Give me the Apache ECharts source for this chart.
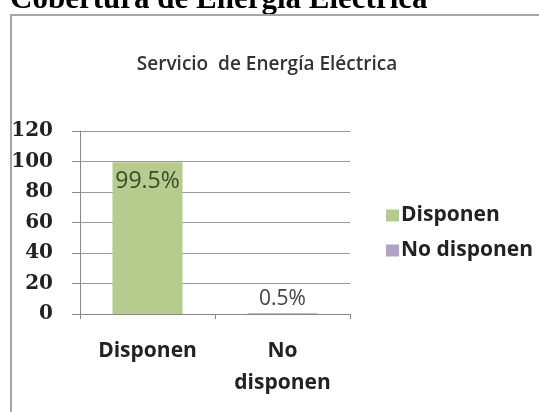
<!DOCTYPE html>
<html>
<head>
<meta charset="utf-8">
<script src="https://cdn.jsdelivr.net/npm/echarts@6/dist/echarts.min.js"></script>
<style>
  html, body { margin: 0; padding: 0; background: #fff; }
  #chart { width: 539px; height: 412px; }
</style>
</head>
<body>
<div id="chart"></div>
<script>
  // datos del gráfico
  var categorias = ['Disponen', 'No disponen'];
  var disponen = [99.5, '-'];
  var noDisponen = ['-', 0.5];
  var ticksY = [0, 20, 40, 60, 80, 100, 120];

  var chart = echarts.init(document.getElementById('chart'));
  chart.setOption({
    animation: false,
    graphic: [
      {
        type: 'text',
        left: 10,
        top: -16,
        style: {
          text: 'Cobertura de Energía Eléctrica',
          font: 'bold 31px "Liberation Serif", serif',
          fill: '#000'
        }
      },
      {
        type: 'rect',
        shape: { x: 11, y: 15, width: 560, height: 420 },
        style: { fill: 'none', stroke: '#a6a6a6', lineWidth: 2 }
      }
    ],
    title: {
      text: 'Servicio  de Energía Eléctrica',
      left: 262,
      top: 50,
      textAlign: 'center',
      textStyle: {
        fontFamily: 'Open Sans',
        fontSize: 19,
        fontWeight: 600,
        color: '#333'
      }
    },
    legend: {
      orient: 'vertical',
      left: 381,
      top: 200,
      itemWidth: 13,
      itemHeight: 12,
      itemGap: 14,
      icon: 'rect',
      textStyle: {
        fontFamily: 'Open Sans',
        fontWeight: 'bold',
        fontSize: 21,
        color: '#222',
        padding: [0, 0, 0, -3]
      },
      data: ['Disponen', 'No disponen']
    },
    grid: {
      left: 80,
      right: 189,
      top: 131,
      bottom: 98,
      containLabel: false
    },
    xAxis: {
      type: 'category',
      data: categorias,
      axisLine: { lineStyle: { color: '#888', width: 1 } },
      axisTick: { show: true, length: 5, lineStyle: { color: '#888' } },
      axisLabel: {
        margin: 21,
        fontFamily: 'Open Sans',
        fontWeight: 'bold',
        fontSize: 21,
        lineHeight: 32,
        color: '#222',
        formatter: function (v) { return v.replace(' ', '\n'); }
      }
    },
    yAxis: {
      type: 'value',
      min: 0,
      max: 120,
      interval: 20,
      axisLine: { show: true, lineStyle: { color: '#888' } },
      axisTick: { show: true, length: 8, lineStyle: { color: '#888' } },
      splitLine: { lineStyle: { color: '#999', width: 1 } },
      axisLabel: {
        margin: 27,
        fontFamily: 'DejaVu Serif',
        fontWeight: 'bold',
        fontSize: 20,
        color: '#222',
        formatter: function (v) { return ticksY.indexOf(v) >= 0 ? v : ''; }
      }
    },
    series: [
      {
        name: 'Disponen',
        type: 'bar',
        data: disponen,
        barWidth: 70,
        barGap: '-100%',
        itemStyle: { color: '#b5cc8e' },
        label: {
          show: true,
          position: 'insideTop',
          distance: 8,
          fontFamily: 'Open Sans',
          fontSize: 23,
          color: '#3a4a28',
          formatter: '{c}%'
        }
      },
      {
        name: 'No disponen',
        type: 'bar',
        data: noDisponen,
        barWidth: 70,
        itemStyle: { color: '#b3a2c7' },
        label: {
          show: true,
          position: 'top',
          distance: 4,
          fontFamily: 'Open Sans',
          fontSize: 21,
          color: '#444',
          formatter: '{c}%'
        }
      }
    ]
  });
</script>
</body>
</html>
